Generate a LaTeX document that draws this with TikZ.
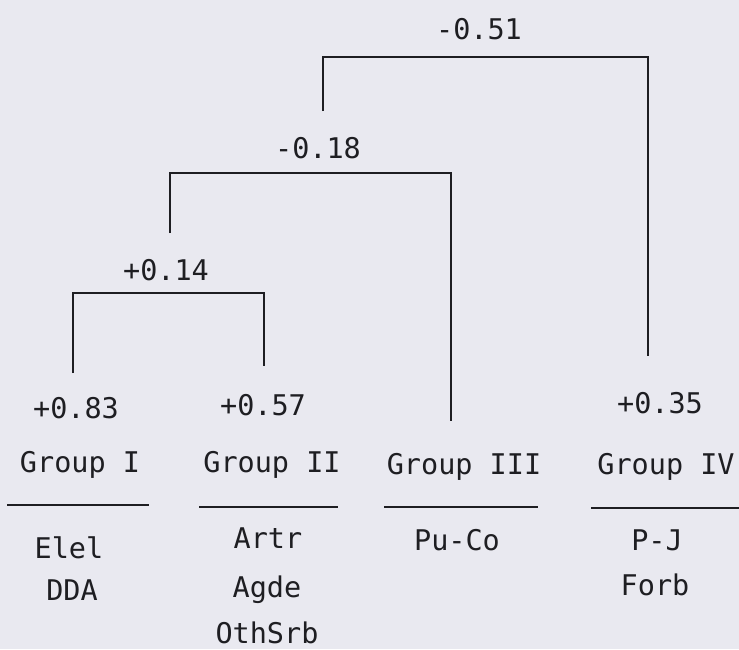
\documentclass[tikz,border=0pt]{standalone}
\usepackage{fontspec}
\newfontfamily\plotfont{DejaVu Sans Mono}
\definecolor{paper}{RGB}{233,233,240}
\definecolor{ink}{RGB}{30,30,34}
\begin{document}
\begin{tikzpicture}[x=1pt,y=-1pt,
  lbl/.style={anchor=base,inner sep=0pt,text=ink,font=\plotfont\fontsize{28.5}{32}\selectfont},
  branch/.style={draw=ink,line width=1.4pt},
  rule/.style={draw=ink,line width=1.6pt}]
  \fill[paper] (0,0) rectangle (739,649);
  \useasboundingbox (0,0) rectangle (739,649);

  % linkage values at each join
  \node[lbl] (v51) at (479,39) {-0.51};
  \node[lbl] (v18) at (318,158) {-0.18};
  \node[lbl] (v14) at (166,280) {+0.14};

  % within-group values
  \node[lbl] (v83) at (76,418) {+0.83};
  \node[lbl] (v57) at (263,415) {+0.57};
  \node[lbl] (v35) at (660,413) {+0.35};

  % group headings
  \node[lbl] (g1) at (80,472) {Group I};
  \node[lbl] (g2) at (272,472) {Group II};
  \node[lbl] (g3) at (464,474) {Group III};
  \node[lbl] (g4) at (666,474) {Group IV};

  % underlines of the headings
  \coordinate (r1a) at (7,505);   \coordinate (r1b) at (149,505);
  \coordinate (r2a) at (199,507); \coordinate (r2b) at (338,507);
  \coordinate (r3a) at (384,507); \coordinate (r3b) at (538,507);
  \coordinate (r4a) at (591,508); \coordinate (r4b) at (739,508);
  \draw[rule] (r1a) -- (r1b);
  \draw[rule] (r2a) -- (r2b);
  \draw[rule] (r3a) -- (r3b);
  \draw[rule] (r4a) -- (r4b);

  % members of each group
  \node[lbl] (m1a) at (69,558) {Elel};
  \node[lbl] (m1b) at (72,600) {DDA};
  \node[lbl] (m2a) at (268,548) {Artr};
  \node[lbl] (m2b) at (267,597) {Agde};
  \node[lbl] (m2c) at (267,643) {OthSrb};
  \node[lbl] (m3a) at (457,550) {Pu-Co};
  \node[lbl] (m4a) at (657,550) {P-J};
  \node[lbl] (m4b) at (655,595) {Forb};

  % leg ends of the tree
  \coordinate (t1) at (73,373);
  \coordinate (t2) at (264,366);
  \coordinate (t3) at (451,421);
  \coordinate (t4) at (648,356);
  \coordinate (s18) at (170,233);
  \coordinate (s51) at (323,111);
  % join levels
  \coordinate (j14) at (0,293);
  \coordinate (j18) at (0,173);
  \coordinate (j51) at (0,57);

  % joins: I+II, (I+II)+III, all+IV
  \draw[branch] (t1) -- (t1 |- j14) -- (t2 |- j14) -- (t2);
  \draw[branch] (s18) -- (s18 |- j18) -- (t3 |- j18) -- (t3);
  \draw[branch] (s51) -- (s51 |- j51) -- (t4 |- j51) -- (t4);
\end{tikzpicture}
\end{document}
